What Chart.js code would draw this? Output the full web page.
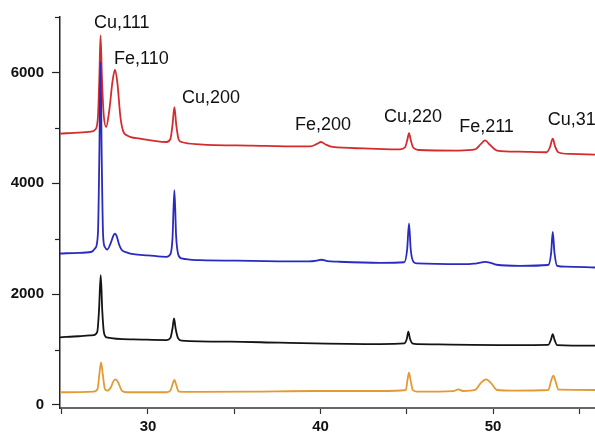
<!DOCTYPE html>
<html>
<head>
<meta charset="utf-8">
<script src="https://cdn.jsdelivr.net/npm/chart.js@4/dist/chart.umd.min.js"></script>
<style>
    body { margin: 0; background: #fff; }
    #wrap { width: 595px; height: 435px; }
</style>
</head>
<body>
<div id="wrap"><canvas id="xrd" width="595" height="435"></canvas></div>
<script>
// axis ticks
const xTicks = [25, 30, 35, 40, 45, 50, 55];
const xLabelTicks = [30, 40, 50];
const yTicks = [0, 2000, 4000, 6000];
const yMinorTicks = [1000, 3000, 5000, 7000];

// red pattern (top)
const redX = [24.9, 26.0, 26.7, 26.95, 27.1, 27.18, 27.25, 27.33, 27.43, 27.57, 27.75, 27.95, 28.09, 28.23, 28.4, 28.55, 28.77, 29.54, 31.08, 31.3, 31.42, 31.53, 31.64, 31.78, 31.95, 33.0, 36.0, 38.8, 39.4, 39.8, 40.03, 40.3, 40.7, 42.5, 44.6, 44.9, 45.03, 45.13, 45.23, 45.38, 45.7, 48.0, 48.96, 49.3, 49.54, 49.8, 50.23, 51.5, 53.1, 53.3, 53.46, 53.6, 53.8, 54.5, 55.92];
const redY = [4895, 4915, 4930, 4970, 5200, 5900, 6667, 5900, 5250, 5015, 5300, 5850, 6049, 5800, 5200, 4950, 4865, 4805, 4745, 4800, 5050, 5375, 5050, 4790, 4745, 4703, 4680, 4665, 4665, 4710, 4745, 4700, 4655, 4630, 4612, 4650, 4780, 4906, 4780, 4640, 4600, 4590, 4610, 4710, 4775, 4700, 4590, 4570, 4560, 4650, 4805, 4660, 4555, 4530, 4517];

// blue pattern
const blueX = [24.9, 26.0, 26.7, 26.95, 27.1, 27.18, 27.25, 27.32, 27.4, 27.5, 27.64, 27.85, 28.0, 28.09, 28.18, 28.32, 28.47, 28.8, 29.15, 30.0, 31.08, 31.3, 31.42, 31.53, 31.63, 31.75, 31.95, 33.0, 36.0, 39.3, 39.8, 40.05, 40.4, 41.0, 43.45, 44.85, 45.02, 45.13, 45.23, 45.4, 45.6, 48.26, 48.9, 49.25, 49.54, 49.85, 50.2, 51.57, 53.2, 53.37, 53.46, 53.56, 53.72, 54.2, 55.92];
const blueY = [2733, 2745, 2760, 2830, 3100, 4500, 6186, 4400, 3050, 2850, 2805, 2930, 3060, 3093, 3050, 2900, 2800, 2750, 2721, 2700, 2673, 2720, 3000, 3874, 3050, 2720, 2643, 2613, 2600, 2590, 2605, 2620, 2595, 2585, 2564, 2575, 2800, 3274, 2800, 2575, 2553, 2540, 2550, 2568, 2582, 2565, 2530, 2510, 2525, 2750, 3123, 2750, 2510, 2495, 2480];

// black pattern
const blackX = [24.9, 26.0, 26.83, 27.06, 27.16, 27.26, 27.35, 27.45, 27.6, 29.15, 31.08, 31.3, 31.42, 31.51, 31.6, 31.75, 31.95, 34.75, 37.65, 43.45, 44.85, 45.0, 45.09, 45.19, 45.36, 45.6, 51.16, 53.2, 53.36, 53.46, 53.56, 53.72, 55.92];
const blackY = [1220, 1240, 1261, 1320, 1700, 2342, 1700, 1300, 1220, 1184, 1171, 1210, 1380, 1562, 1380, 1200, 1159, 1141, 1123, 1099, 1110, 1190, 1321, 1190, 1105, 1099, 1081, 1085, 1180, 1279, 1180, 1080, 1069];

// orange pattern (bottom)
const orangeX = [24.9, 26.83, 27.08, 27.18, 27.28, 27.38, 27.5, 27.64, 27.85, 28.0, 28.13, 28.28, 28.48, 28.77, 31.08, 31.3, 31.43, 31.53, 31.63, 31.78, 32.5, 36.0, 39.57, 43.45, 44.95, 45.04, 45.13, 45.23, 45.35, 45.6, 47.7, 47.99, 48.25, 48.96, 49.3, 49.6, 49.9, 50.23, 51.16, 53.2, 53.38, 53.5, 53.62, 53.8, 55.92];
const orangeY = [229, 240, 290, 550, 769, 550, 290, 258, 320, 430, 463, 400, 260, 229, 229, 260, 380, 450, 370, 240, 235, 240, 252, 252, 270, 450, 582, 430, 270, 240, 250, 282, 252, 270, 400, 463, 390, 270, 258, 270, 450, 528, 430, 275, 270];

// reflection labels
const peakLabels = ['Cu,111', 'Fe,110', 'Cu,200', 'Fe,200', 'Cu,220', 'Fe,211', 'Cu,311'];
const peakLabelX = [28.48, 29.62, 33.65, 40.14, 45.36, 49.62, 54.81];
const peakLabelY = [6796, 6144, 5441, 4955, 5099, 4919, 5045];

const toPoints = (xs, ys) => xs.map((x, i) => ({ x: x, y: ys[i] }));

function lineSet(label, xs, ys, color) {
    return {
        label: label,
        data: toPoints(xs, ys),
        borderColor: color,
        borderWidth: 1.8,
        pointRadius: 0,
        fill: false,
        cubicInterpolationMode: 'monotone'
    };
}

// draws the reflection names and the short minor ticks of the y axis
const extrasPlugin = {
    id: 'extras',
    afterDraw(chart) {
        const ctx = chart.ctx;
        const xs = chart.scales.x;
        const ys = chart.scales.y;
        const left = chart.chartArea.left;

        ctx.save();
        ctx.strokeStyle = '#222';
        ctx.lineWidth = 1.2;
        yMinorTicks.forEach(v => {
            const py = Math.round(ys.getPixelForValue(v)) + 0.5;
            ctx.beginPath();
            ctx.moveTo(left - 5, py);
            ctx.lineTo(left, py);
            ctx.stroke();
        });

        ctx.fillStyle = '#111';
        ctx.font = '18px "Liberation Sans", Arial, sans-serif';
        ctx.textAlign = 'center';
        ctx.textBaseline = 'alphabetic';
        peakLabels.forEach((txt, i) => {
            ctx.fillText(txt, xs.getPixelForValue(peakLabelX[i]), ys.getPixelForValue(peakLabelY[i]));
        });
        ctx.restore();
    }
};

const tickFont = { family: '"Liberation Sans", Arial, sans-serif', size: 15, weight: 'bold' };

new Chart(document.getElementById('xrd'), {
    type: 'line',
    data: {
        datasets: [
            lineSet('blue', blueX, blueY, '#2a2abf'),
            lineSet('red', redX, redY, '#d42c2c'),
            lineSet('black', blackX, blackY, '#141414'),
            lineSet('orange', orangeX, orangeY, '#e39a35')
        ]
    },
    options: {
        responsive: false,
        devicePixelRatio: 1,
        animation: false,
        layout: { padding: { top: 17, right: 0, bottom: 0, left: 0 } },
        plugins: {
            legend: { display: false },
            tooltip: { enabled: false }
        },
        scales: {
            x: {
                type: 'linear',
                min: 24.9,
                max: 55.91,
                afterBuildTicks: scale => { scale.ticks = xTicks.map(v => ({ value: v })); },
                afterFit: scale => { scale.height = 27; },
                ticks: {
                    autoSkip: false,
                    maxRotation: 0,
                    padding: 4,
                    color: '#111',
                    font: tickFont,
                    callback: v => xLabelTicks.includes(v) ? String(v) : ''
                },
                grid: { drawOnChartArea: false, drawTicks: true, tickLength: 6, tickColor: '#333', tickWidth: 1.2 },
                border: { display: true, color: '#666', width: 2 }
            },
            y: {
                type: 'linear',
                min: -55,
                max: 7000,
                afterBuildTicks: scale => { scale.ticks = yTicks.map(v => ({ value: v })); },
                afterFit: scale => { scale.width = 60; },
                ticks: {
                    padding: 8,
                    color: '#111',
                    font: tickFont,
                    callback: v => String(v)
                },
                grid: { drawOnChartArea: false, drawTicks: true, tickLength: 8, tickColor: '#222', tickWidth: 1.2 },
                border: { display: true, color: '#222', width: 1.5 }
            }
        }
    },
    plugins: [extrasPlugin]
});
</script>
</body>
</html>
